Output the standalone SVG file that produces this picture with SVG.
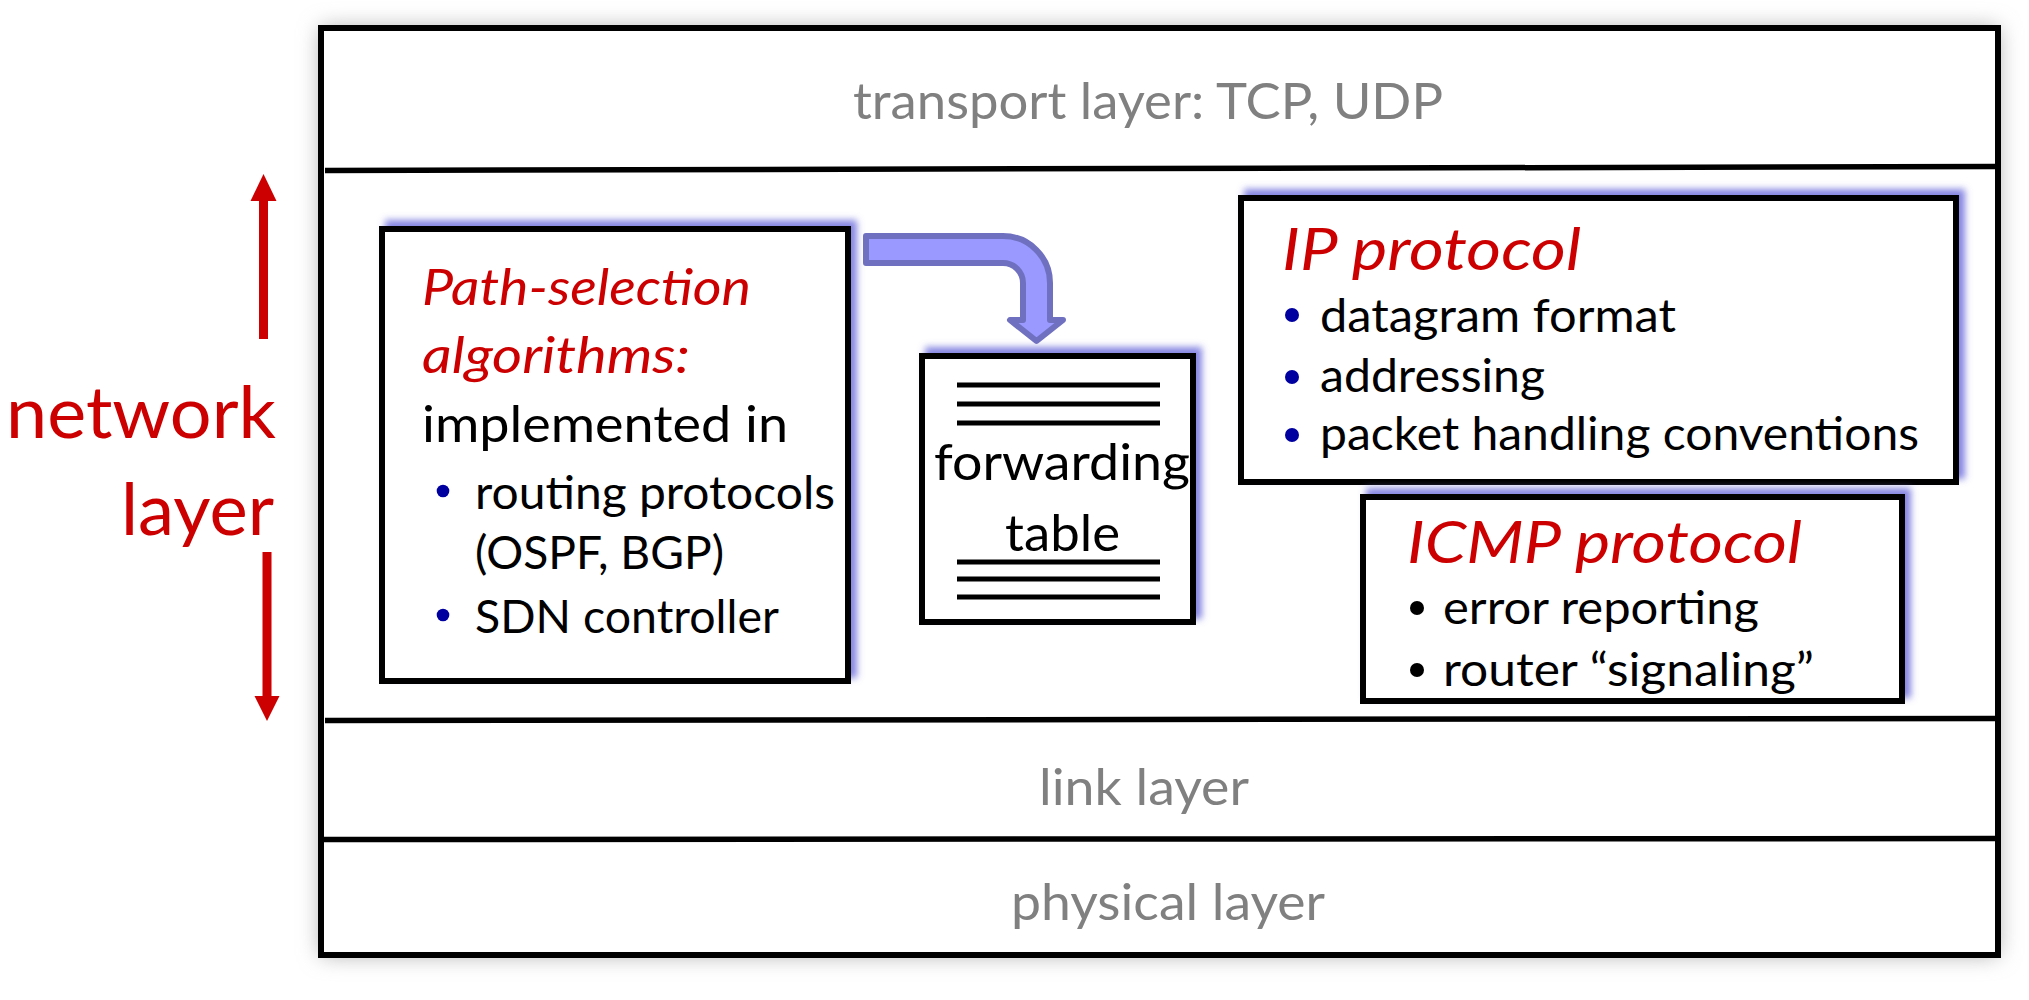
<svg xmlns="http://www.w3.org/2000/svg" width="2029" height="1000" viewBox="0 0 2029 1000">
<defs>
<style>
text{font-family:Lato,"Liberation Sans",sans-serif}
.gray{fill:#808080;font-size:50px}
.red{fill:#cc0000}
.ital{font-style:italic}
.body{fill:#000;font-size:46px}
.box{fill:#fff;stroke:#000;stroke-width:6}
.div{stroke:#000;stroke-width:5.5;fill:none}
.tl{stroke:#000;stroke-width:5}
.bb{fill:#0000a0}
</style>
<filter id="grayshadow" x="-5%" y="-10%" width="110%" height="120%">
<feGaussianBlur stdDeviation="11"/>
</filter>
<filter id="glow" x="-10%" y="-15%" width="120%" height="130%">
<feFlood flood-color="#7070dd" flood-opacity="0.85"/>
<feComposite in2="SourceAlpha" operator="in"/>
<feOffset dx="6" dy="-6"/>
<feGaussianBlur stdDeviation="3.5"/>
<feMerge><feMergeNode/><feMergeNode in="SourceGraphic"/></feMerge>
</filter>
</defs>
<rect width="2029" height="1000" fill="#fff"/>

<g id="stack">
<rect x="321" y="28" width="1677" height="927" fill="#a8a8a8" filter="url(#grayshadow)"/>
<rect x="321" y="28" width="1677" height="927" class="box"/>
<line x1="325" y1="170.5" x2="1995" y2="166.5" class="div"/>
<line x1="325" y1="720.5" x2="1995" y2="718.5" class="div"/>
<line x1="323" y1="839.5" x2="1995" y2="838.5" class="div"/>
</g>

<g id="transport-layer">
<text x="853" y="119" class="gray" textLength="590" lengthAdjust="spacingAndGlyphs">transport layer: TCP, UDP</text>
</g>
<g id="link-layer">
<text x="1039" y="805" class="gray" textLength="210" lengthAdjust="spacingAndGlyphs">link layer</text>
</g>
<g id="physical-layer">
<text x="1011" y="920" class="gray" textLength="314" lengthAdjust="spacingAndGlyphs">physical layer</text>
</g>

<g id="network-layer-label">
<text x="6" y="438" class="red" font-size="71" textLength="270" lengthAdjust="spacingAndGlyphs">network</text>
<text x="121" y="535" class="red" font-size="71" textLength="153" lengthAdjust="spacingAndGlyphs">layer</text>
</g>

<g id="path-selection">
<rect x="382" y="229" width="466" height="452" class="box" filter="url(#glow)"/>
<text x="422" y="305" class="red ital" font-size="51" textLength="329" lengthAdjust="spacingAndGlyphs">Path-selection</text>
<text x="422" y="373" class="red ital" font-size="51" textLength="268" lengthAdjust="spacingAndGlyphs">algorithms:</text>
<text x="422" y="442" font-size="51" textLength="366" lengthAdjust="spacingAndGlyphs">implemented in</text>
<circle cx="443" cy="491" r="6.3" class="bb"/>
<text x="475" y="509" class="body" textLength="360" lengthAdjust="spacingAndGlyphs">routing protocols</text>
<text x="475" y="569" class="body" textLength="249" lengthAdjust="spacingAndGlyphs">(OSPF, BGP)</text>
<circle cx="443" cy="615" r="6.3" class="bb"/>
<text x="475" y="633" class="body" textLength="304" lengthAdjust="spacingAndGlyphs">SDN controller</text>
</g>

<g id="forwarding-table">
<rect x="922" y="356" width="271" height="266" class="box" filter="url(#glow)"/>
<line x1="957" y1="385" x2="1160" y2="385" class="tl"/>
<line x1="957" y1="404" x2="1160" y2="404" class="tl"/>
<line x1="957" y1="423" x2="1160" y2="423" class="tl"/>
<text x="934" y="480" font-size="51" textLength="256" lengthAdjust="spacingAndGlyphs">forwarding</text>
<text x="1005" y="551" font-size="51" textLength="115" lengthAdjust="spacingAndGlyphs">table</text>
<line x1="957" y1="562" x2="1160" y2="562" class="tl"/>
<line x1="957" y1="579" x2="1160" y2="579" class="tl"/>
<line x1="957" y1="597" x2="1160" y2="597" class="tl"/>
</g>

<g id="ip-protocol">
<rect x="1241" y="198" width="715" height="284" class="box" filter="url(#glow)"/>
<text x="1282" y="270" class="red ital" font-size="59" textLength="299" lengthAdjust="spacingAndGlyphs">IP protocol</text>
<circle cx="1292" cy="315" r="7" class="bb"/>
<text x="1320" y="332" class="body" textLength="356" lengthAdjust="spacingAndGlyphs">datagram format</text>
<circle cx="1292" cy="377" r="7" class="bb"/>
<text x="1320" y="392" class="body" textLength="225" lengthAdjust="spacingAndGlyphs">addressing</text>
<circle cx="1292" cy="435" r="7" class="bb"/>
<text x="1320" y="450" class="body" textLength="599" lengthAdjust="spacingAndGlyphs">packet handling conventions</text>
</g>

<g id="icmp-protocol">
<rect x="1363" y="497" width="539" height="204" class="box" filter="url(#glow)"/>
<text x="1407" y="563" class="red ital" font-size="59" textLength="395" lengthAdjust="spacingAndGlyphs">ICMP protocol</text>
<circle cx="1417" cy="608" r="7" fill="#000"/>
<text x="1443" y="624" class="body" textLength="316" lengthAdjust="spacingAndGlyphs">error reporting</text>
<circle cx="1417" cy="670" r="7" fill="#000"/>
<text x="1443" y="686" class="body" textLength="371" lengthAdjust="spacingAndGlyphs">router “signaling”</text>
</g>

<g id="connectors">
<path d="M866,236 H1003 A47,47 0 0 1 1050,283 V320 H1063 L1036.5,341 L1010,320 H1023 V283 A20,20 0 0 0 1003,263 H866 Z" fill="#9999ff" stroke="#7070c0" stroke-width="6" stroke-linejoin="round"/>
<rect x="259" y="199" width="9" height="140" fill="#cc0000"/>
<polygon points="250.5,201 276.5,201 263.5,174" fill="#cc0000"/>
<rect x="262.5" y="552" width="9" height="146" fill="#cc0000"/>
<polygon points="254.5,696 279.5,696 267,721" fill="#cc0000"/>
</g>
</svg>
